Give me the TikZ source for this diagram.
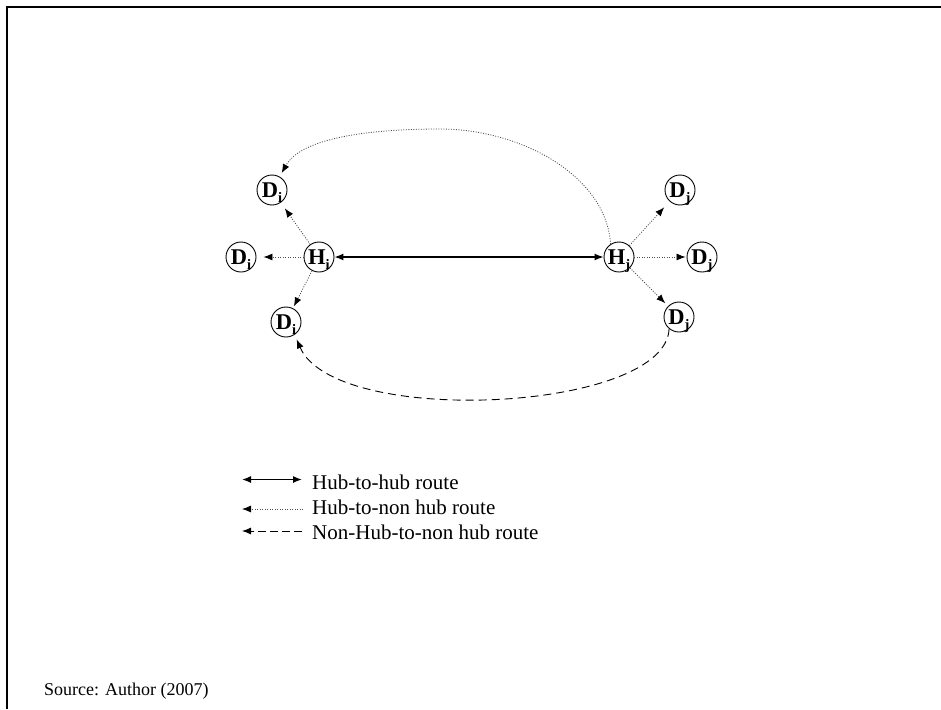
\documentclass[tikz,border=0pt]{standalone}
\usepackage{fontspec}
\setmainfont{Liberation Serif}
\usetikzlibrary{arrows.meta}
\newcommand{\sbs}[1]{\raisebox{-5.5pt}{\fontsize{14.5}{14.5}\selectfont #1}}
\tikzset{
  x=1pt, y=-1pt,
  city/.style={circle, draw, line width=0.9pt, minimum size=30pt, inner sep=0pt,
    text depth=0pt, font=\bfseries\fontsize{22.5}{22.5}\selectfont},
  tip/.style={-{Latex[length=9pt,width=7pt,black]}},
  hubhub/.style={line width=1.3pt, {Latex[length=9pt,width=7pt]}-{Latex[length=9pt,width=7pt]}},
  hubnon/.style={draw=black!70, line width=0.8pt, dash pattern=on 1pt off 1.5pt, tip},
  nonnon/.style={line width=0.9pt, dash pattern=on 8pt off 5pt, tip},
  legtext/.style={anchor=base west, inner sep=0pt, font=\fontsize{21}{25}\selectfont},
}
\begin{document}
\begin{tikzpicture}
\useasboundingbox (0,0) rectangle (941,709);
% frame
\draw[line width=2pt] (7,709) -- (7,7) -- (941,7);

% nodes
\node[city] (Hi)  at (319,257) {H\sbs{i}};
\node[city] (Hj)  at (619,257) {H\sbs{j}};
\node[city] (Dit) at (272,190) {D\sbs{i}};
\node[city] (Dil) at (241,257) {D\sbs{i}};
\node[city] (Dib) at (286,322) {D\sbs{i}};
\node[city] (Djt) at (680,190) {D\sbs{j}};
\node[city] (Djm) at (702,257) {D\sbs{j}};
\node[city] (Djb) at (679,317) {D\sbs{j}};

% hub-to-hub
\draw[hubhub] (Hi) -- (Hj);

% hub-to-non hub
\draw[hubnon, shorten >=7pt] (Hi) -- (Dit);
\draw[hubnon, shorten >=7pt] (Hi) -- (Dil);
\draw[hubnon, shorten >=2pt] (Hi) -- (Dib);
\draw[hubnon, shorten >=8pt] (Hj) -- (Djt);
\draw[hubnon, shorten >=1pt] (Hj) -- (Djm);
\draw[hubnon, shorten >=4pt] (Hj) -- (Djb);
\coordinate (topmid) at (440,129);
\draw[hubnon, shorten >=4pt] (Hj.123) .. controls (606,175) and (520,129) .. (topmid)
   .. controls (360,129) and (300,140) .. (Dit.60);

% non-hub-to-non hub
\draw[nonnon, shorten >=5pt] (Djb.230) .. controls (666,412) and (335,428) .. (Dib.304);

% legend
\coordinate (l1a) at (242,479.5);
\coordinate (l1b) at (302,479.5);
\coordinate (l2a) at (242,509);
\coordinate (l2b) at (303,509);
\coordinate (l3a) at (242,531);
\coordinate (l3b) at (302,531);
\draw[hubhub] (l1a) -- (l1b);
\draw[hubnon] (l2b) -- (l2a);
\draw[nonnon, dash pattern=on 8pt off 4pt] (l3b) -- (l3a);
\node[legtext] (t1) at (312,489) {Hub-to-hub route};
\node[legtext] (t2) at (312,514) {Hub-to-non hub route};
\node[legtext] (t3) at (312,539) {Non-Hub-to-non hub route};

% source
\node[legtext, font=\fontsize{18}{22}\selectfont] (src) at (44,695) {Source: Author (2007)};
\end{tikzpicture}
\end{document}
